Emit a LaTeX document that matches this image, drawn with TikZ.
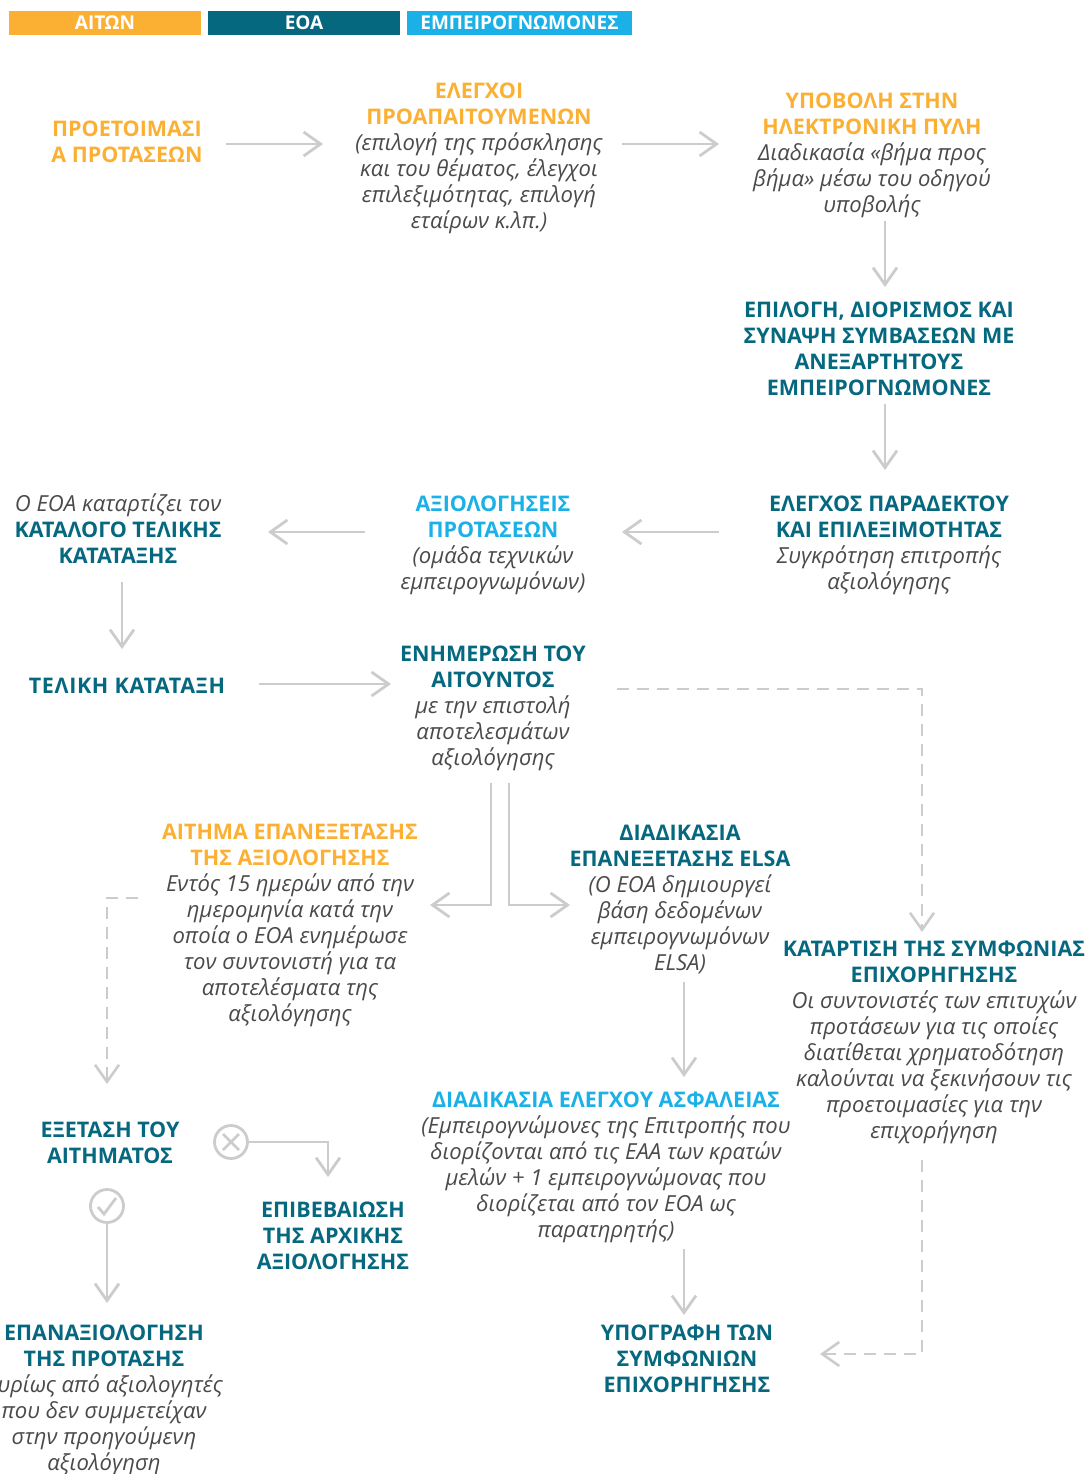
\documentclass[tikz,border=0pt]{standalone}
\usepackage{fontspec}
\setmainfont[Kerning=Off]{Open Sans}
\usetikzlibrary{arrows.meta}
\definecolor{cO}{HTML}{FBB034}
\definecolor{cT}{HTML}{05687F}
\definecolor{cB}{HTML}{1BB1E7}
\definecolor{cG}{HTML}{4A4A4A}
\definecolor{cL}{HTML}{CCCCCC}
\newcommand\hO{\fontsize{21.5}{26}\selectfont\bfseries\color{cO}}
\newcommand\hT{\fontsize{21.5}{26}\selectfont\bfseries\color{cT}}
\newcommand\hB{\fontsize{21.5}{26}\selectfont\bfseries\color{cB}}
\newcommand\bdy{\fontsize{22.1}{26}\selectfont\itshape\color{cG}}
\newcommand\blk[1]{\setbox\strutbox=\hbox{\vrule height 20.5pt depth 5.5pt width 0pt}\vbox{\kern1.2pt\hbox{\begin{tabular}{@{}c@{}}#1\end{tabular}}}}
\tikzset{
  x=1pt,y=-1pt,
  txt/.style={anchor=center,inner sep=0pt},
  legendbox/.style={anchor=center,inner sep=0pt,minimum height=24pt,text=white,
    font=\fontsize{19}{22}\selectfont\bfseries,execute at begin node={\rule[-3.4pt]{0pt}{19.4pt}}},
  flow/.style={draw=cL,line width=2.8pt,-{Straight Barb[length=17pt,width=24pt,line width=2.8pt]}},
  dashflow/.style={draw=cL,line width=2.3pt,dash pattern=on 12pt off 8pt,-{Straight Barb[length=17pt,width=24pt,line width=2.6pt,sep=0pt]}},
  ring/.style={circle,draw=cL,line width=2.8pt,minimum size=33pt,inner sep=0pt},
}
\begin{document}
\begin{tikzpicture}
\useasboundingbox (0,0) rectangle (1090,1474);
\node[legendbox,fill=cO,minimum width=192pt] (l1) at (105,23) {ΑΙΤΩΝ};
\node[legendbox,fill=cT,minimum width=192pt] (l2) at (304,23) {ΕΟΑ};
\node[legendbox,fill=cB,minimum width=225pt] (l3) at (519.5,23) {ΕΜΠΕΙΡΟΓΝΩΜΟΝΕΣ};

\node[txt] (p1) at (127,141) {\blk{\hO ΠΡΟΕΤΟΙΜΑΣΙ\\\hO Α ΠΡΟΤΑΣΕΩΝ}};
\node[txt] (p2) at (479,155.5) {\blk{\hO ΕΛΕΓΧΟΙ\\\hO ΠΡΟΑΠΑΙΤΟΥΜΕΝΩΝ\\\bdy (επιλογή της πρόσκλησης\\\bdy και του θέματος, έλεγχοι\\\bdy επιλεξιμότητας, επιλογή\\\bdy εταίρων κ.λπ.)}};
\node[txt] (p3) at (872,152) {\blk{\hO ΥΠΟΒΟΛΗ ΣΤΗΝ\\\hO ΗΛΕΚΤΡΟΝΙΚΗ ΠΥΛΗ\\\bdy Διαδικασία «βήμα προς\\\bdy βήμα» μέσω του οδηγού\\\bdy υποβολής}};
\node[txt] (p4) at (879,348) {\blk{\hT ΕΠΙΛΟΓΗ, ΔΙΟΡΙΣΜΟΣ ΚΑΙ\\\hT ΣΥΝΑΨΗ ΣΥΜΒΑΣΕΩΝ ΜΕ\\\hT ΑΝΕΞΑΡΤΗΤΟΥΣ\\\hT ΕΜΠΕΙΡΟΓΝΩΜΟΝΕΣ}};
\node[txt] (p5) at (889,542) {\blk{\hT ΕΛΕΓΧΟΣ ΠΑΡΑΔΕΚΤΟΥ\\\hT ΚΑΙ ΕΠΙΛΕΞΙΜΟΤΗΤΑΣ\\\bdy Συγκρότηση επιτροπής\\\bdy αξιολόγησης}};
\node[txt] (p6) at (493,542) {\blk{\hB ΑΞΙΟΛΟΓΗΣΕΙΣ\\\hB ΠΡΟΤΑΣΕΩΝ\\\bdy (ομάδα τεχνικών\\\bdy εμπειρογνωμόνων)}};
\node[txt] (p7) at (118,529) {\blk{\bdy Ο ΕΟΑ καταρτίζει τον\\\hT ΚΑΤΑΛΟΓΟ ΤΕΛΙΚΗΣ\\\hT ΚΑΤΑΤΑΞΗΣ}};
\node[txt] (p8) at (127,685) {\blk{\hT\addfontfeatures{LetterSpace=3}ΤΕΛΙΚΗ ΚΑΤΑΤΑΞΗ}};
\node[txt] (p9) at (493,705.5) {\blk{\hT ΕΝΗΜΕΡΩΣΗ ΤΟΥ\\\hT ΑΙΤΟΥΝΤΟΣ\\\bdy με την επιστολή\\\bdy αποτελεσμάτων\\\bdy αξιολόγησης}};
\node[txt] (p10) at (290,922.5) {\blk{\hO ΑΙΤΗΜΑ ΕΠΑΝΕΞΕΤΑΣΗΣ\\\hO ΤΗΣ ΑΞΙΟΛΟΓΗΣΗΣ\\\bdy Εντός 15 ημερών από την\\\bdy ημερομηνία κατά την\\\bdy οποία ο ΕΟΑ ενημέρωσε\\\bdy τον συντονιστή για τα\\\bdy αποτελέσματα της\\\bdy αξιολόγησης}};
\node[txt] (p11) at (680,897) {\blk{\hT ΔΙΑΔΙΚΑΣΙΑ\\\hT ΕΠΑΝΕΞΕΤΑΣΗΣ ELSA\\\bdy (Ο ΕΟΑ δημιουργεί\\\bdy βάση δεδομένων\\\bdy εμπειρογνωμόνων\\\bdy ELSA)}};
\node[txt] (p12) at (934,1039.5) {\blk{\hT ΚΑΤΑΡΤΙΣΗ ΤΗΣ ΣΥΜΦΩΝΙΑΣ\\\hT ΕΠΙΧΟΡΗΓΗΣΗΣ\\\bdy Οι συντονιστές των επιτυχών\\\bdy προτάσεων για τις οποίες\\\bdy διατίθεται χρηματοδότηση\\\bdy καλούνται να ξεκινήσουν τις\\\bdy προετοιμασίες για την\\\bdy επιχορήγηση}};
\node[txt] (p13) at (606,1164.5) {\blk{\hB ΔΙΑΔΙΚΑΣΙΑ ΕΛΕΓΧΟΥ ΑΣΦΑΛΕΙΑΣ\\\bdy (Εμπειρογνώμονες της Επιτροπής που\\\bdy διορίζονται από τις ΕΑΑ των κρατών\\\bdy μελών + 1 εμπειρογνώμονας που\\\bdy διορίζεται από τον ΕΟΑ ως\\\bdy παρατηρητής)}};
\node[txt] (p14) at (110,1142) {\blk{\hT ΕΞΕΤΑΣΗ ΤΟΥ\\\hT ΑΙΤΗΜΑΤΟΣ}};
\node[txt] (p15) at (333,1235) {\blk{\hT ΕΠΙΒΕΒΑΙΩΣΗ\\\hT ΤΗΣ ΑΡΧΙΚΗΣ\\\hT ΑΞΙΟΛΟΓΗΣΗΣ}};
\node[txt] (p16) at (104,1397.5) {\blk{\hT ΕΠΑΝΑΞΙΟΛΟΓΗΣΗ\\\hT ΤΗΣ ΠΡΟΤΑΣΗΣ\\\bdy Κυρίως από αξιολογητές\\\bdy που δεν συμμετείχαν\\\bdy στην προηγούμενη\\\bdy αξιολόγηση}};
\node[txt] (p17) at (687,1358) {\blk{\hT ΥΠΟΓΡΑΦΗ ΤΩΝ\\\hT ΣΥΜΦΩΝΙΩΝ\\\hT ΕΠΙΧΟΡΗΓΗΣΗΣ}};

\node[ring] (no) at (231,1142) {};
\node[ring] (yes) at (107,1206) {};
\draw[cL,line width=2.8pt] (no.center) ++(-8,-8) -- ++(16,16) ++(-16,0) -- ++(16,-16);
\draw[cL,line width=2.8pt] (yes.center) ++(-9,1) -- ++(6,7) -- ++(12,-16);

\draw[flow] ([shift={(99,3)}]p1.center) -- ([shift={(-156,-11.5)}]p2.center);
\draw[flow] ([shift={(143,-11.5)}]p2.center) -- ([shift={(-153,-8)}]p3.center);
\draw[flow] ([shift={(13,69)}]p3.center) -- ([shift={(6,-61)}]p4.center);
\draw[flow] ([shift={(6,56)}]p4.center) -- ([shift={(-4,-72)}]p5.center);
\draw[flow] ([shift={(-170,-10)}]p5.center) -- ([shift={(129,-10)}]p6.center);
\draw[flow] ([shift={(-128,-10)}]p6.center) -- ([shift={(150,3)}]p7.center);
\draw[flow] ([shift={(4,53)}]p7.center) -- ([shift={(-5,-36)}]p8.center);
\draw[flow] ([shift={(132,-1)}]p8.center) -- ([shift={(-102,-21.5)}]p9.center);
\draw[dashflow] ([shift={(124,-16.5)}]p9.center) -| ([shift={(-12,-107.5)}]p12.center);
\draw[flow] ([shift={(-2,77.5)}]p9.center) |- ([shift={(140,-17.5)}]p10.center);
\draw[flow] ([shift={(16,77.5)}]p9.center) |- ([shift={(-110,8)}]p11.center);
\draw[flow] ([shift={(4,85)}]p11.center) -- ([shift={(78,-87.5)}]p13.center);
\draw[dashflow] ([shift={(-152,-24.5)}]p10.center) -| ([shift={(-3,-58)}]p14.center);
\draw[flow] ([shift={(78,84.5)}]p13.center) -- ([shift={(-3,-43)}]p17.center);
\draw[dashflow] ([shift={(-12,120.5)}]p12.center) |- ([shift={(133,-4)}]p17.center);
\draw[flow] (no.east) -| ([shift={(-5,-58)}]p15.center);
\draw[flow] (yes.south) -- ([shift={(3,-94.5)}]p16.center);
\end{tikzpicture}
\end{document}
